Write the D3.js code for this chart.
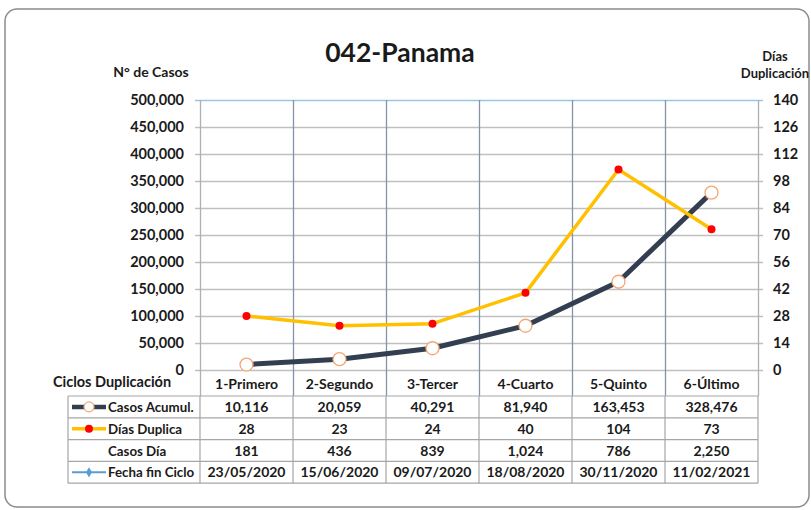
<!DOCTYPE html>
<html>
<head>
<meta charset="utf-8">
<script src="https://cdn.jsdelivr.net/npm/d3@7"></script>
<style>
  body { margin: 0; background: #fff; }
  svg text { font-family: Lato, "Open Sans", sans-serif; font-weight: bold; fill: #1a1a1a; }
</style>
</head>
<body>
<svg id="chart" width="811" height="510"></svg>
<script>
// chart data
var ciclos = ["1-Primero", "2-Segundo", "3-Tercer", "4-Cuarto", "5-Quinto", "6-Último"];
var casosAcumul = [10116, 20059, 40291, 81940, 163453, 328476];
var diasDuplica = [28, 23, 24, 40, 104, 73];
var casosDia = [181, 436, 839, 1024, 786, 2250];
var fechaFin = ["23/05/2020", "15/06/2020", "09/07/2020", "18/08/2020", "30/11/2020", "11/02/2021"];
var leftTicks = [0, 50000, 100000, 150000, 200000, 250000, 300000, 350000, 400000, 450000, 500000];
var rightTicks = [0, 14, 28, 42, 56, 70, 84, 98, 112, 126, 140];

(function() {
var svg = d3.select("#chart");
var fmt = d3.format(",");

var pL = 200, pR = 758, pT = 100, pB = 370;

var x = d3.scaleBand().domain(ciclos).range([pL, pR]);
var yL = d3.scaleLinear().domain([0, 500000]).range([pB, pT]);
var yR = d3.scaleLinear().domain([0, 140]).range([pB, pT]);

// outer frame
svg.append("rect")
  .attr("x", 5).attr("y", 9).attr("width", 804).attr("height", 498)
  .attr("rx", 12).attr("fill", "#fff")
  .attr("stroke", "#8c8c8c").attr("stroke-width", 1.5);

// titles
svg.append("text").attr("x", 400).attr("y", 62).attr("text-anchor", "middle")
  .style("font-size", "26.5px").text("042-Panama");
svg.append("text").attr("x", 151).attr("y", 77).attr("text-anchor", "middle")
  .style("font-size", "14px").text("N° de Casos");
svg.append("text").attr("x", 775).attr("y", 61).attr("text-anchor", "middle")
  .style("font-size", "13px").text("Días");
svg.append("text").attr("x", 775).attr("y", 78).attr("text-anchor", "middle")
  .style("font-size", "13px").text("Duplicación");

// horizontal gridlines
svg.append("g").selectAll("line").data(leftTicks).enter().append("line")
  .attr("x1", pL - 5).attr("x2", pR + 5)
  .attr("y1", function(d) { return Math.round(yL(d)) + 0.5; })
  .attr("y2", function(d) { return Math.round(yL(d)) + 0.5; })
  .attr("stroke", function(d) { return d === 500000 ? "#9dc3e6" : "#c0c0c0"; })
  .attr("stroke-width", 1.5);

// vertical category lines (through plot and header row)
var bounds = ciclos.map(function(c) { return x(c); }).concat([pR]);
svg.append("g").selectAll("line").data(bounds.slice(1, 6)).enter().append("line")
  .attr("x1", function(d) { return Math.round(d) + 0.5; })
  .attr("x2", function(d) { return Math.round(d) + 0.5; })
  .attr("y1", pT).attr("y2", 396)
  .attr("stroke", "#8593a8").attr("stroke-width", 1.3);

// axis lines
svg.append("line").attr("x1", pL + 0.5).attr("x2", pL + 0.5).attr("y1", pT).attr("y2", 396)
  .attr("stroke", "#b0b0b0").attr("stroke-width", 1.3);
svg.append("line").attr("x1", pR + 0.5).attr("x2", pR + 0.5).attr("y1", pT).attr("y2", 396)
  .attr("stroke", "#b0b0b0").attr("stroke-width", 1.3);

// axis labels
svg.append("g").selectAll("text").data(leftTicks).enter().append("text")
  .attr("x", 184).attr("y", function(d) { return yL(d) + 5; })
  .attr("text-anchor", "end").style("font-size", "14.5px")
  .text(function(d) { return fmt(d); });
svg.append("g").selectAll("text").data(rightTicks).enter().append("text")
  .attr("x", 773).attr("y", function(d) { return yR(d) + 5; })
  .style("font-size", "14.5px")
  .text(function(d) { return d; });

// lines
var cx = function(d, i) { return x(ciclos[i]) + x.bandwidth() / 2; };

var lineL = d3.line().x(cx).y(function(d) { return yL(d); });
var lineR = d3.line().x(cx).y(function(d) { return yR(d); });

svg.append("path").datum(casosAcumul).attr("d", lineL)
  .attr("fill", "none").attr("stroke", "#333f50").attr("stroke-width", 5)
  .attr("stroke-linejoin", "round");
svg.append("path").datum(diasDuplica).attr("d", lineR)
  .attr("fill", "none").attr("stroke", "#ffc000").attr("stroke-width", 3.5)
  .attr("stroke-linejoin", "round");

svg.append("g").selectAll("circle").data(casosAcumul).enter().append("circle")
  .attr("cx", cx).attr("cy", function(d) { return yL(d); }).attr("r", 6.5)
  .attr("fill", "#fff").attr("stroke", "#f4a672").attr("stroke-width", 1.3);
svg.append("g").selectAll("circle").data(diasDuplica).enter().append("circle")
  .attr("cx", cx).attr("cy", function(d) { return yR(d); }).attr("r", 4)
  .attr("fill", "#ff0000");

// category labels row
svg.append("text").attr("x", 112).attr("y", 387).attr("text-anchor", "middle")
  .style("font-size", "14.5px").text("Ciclos Duplicación");
svg.append("g").selectAll("text").data(ciclos).enter().append("text")
  .attr("x", function(d) { return x(d) + x.bandwidth() / 2; }).attr("y", 389)
  .attr("text-anchor", "middle").style("font-size", "14px")
  .text(function(d) { return d; });

// data table
var rows = [
  {name: "Casos Acumul.", vals: casosAcumul.map(fmt)},
  {name: "Días Duplica", vals: diasDuplica.map(String)},
  {name: "Casos Día", vals: casosDia.map(fmt)},
  {name: "Fecha fin Ciclo", vals: fechaFin}
];
var rowTop = 396, rowH = 21.8, tabLeft = 68;
var tg = svg.append("g");

rows.forEach(function(r, k) {
  var y0 = rowTop + k * rowH;
  tg.append("line").attr("x1", tabLeft).attr("x2", pR).attr("y1", y0).attr("y2", y0)
    .attr("stroke", "#a6a6a6").attr("stroke-width", 1.2);
  tg.append("text").attr("x", 108).attr("y", y0 + 16).style("font-size", "13.3px").text(r.name);
  r.vals.forEach(function(v, i) {
    tg.append("text").attr("x", cx(null, i)).attr("y", y0 + 16)
      .attr("text-anchor", "middle").style("font-size", "14px").text(v);
  });
});
var tabBottom = rowTop + rows.length * rowH;
tg.append("line").attr("x1", tabLeft).attr("x2", pR).attr("y1", tabBottom).attr("y2", tabBottom)
  .attr("stroke", "#a6a6a6").attr("stroke-width", 1.2);
bounds.concat([tabLeft]).forEach(function(b) {
  tg.append("line").attr("x1", b).attr("x2", b).attr("y1", rowTop).attr("y2", tabBottom)
    .attr("stroke", "#a6a6a6").attr("stroke-width", 1.2);
});

// legend keys
var ly = function(k) { return rowTop + k * rowH + rowH / 2; };
tg.append("line").attr("x1", 72).attr("x2", 106).attr("y1", ly(0)).attr("y2", ly(0))
  .attr("stroke", "#333f50").attr("stroke-width", 4.5);
tg.append("circle").attr("cx", 89).attr("cy", ly(0)).attr("r", 5)
  .attr("fill", "#fff").attr("stroke", "#f4a672").attr("stroke-width", 1.2);
tg.append("line").attr("x1", 72).attr("x2", 106).attr("y1", ly(1)).attr("y2", ly(1))
  .attr("stroke", "#ffc000").attr("stroke-width", 3.5);
tg.append("circle").attr("cx", 89).attr("cy", ly(1)).attr("r", 4).attr("fill", "#ff0000");
tg.append("line").attr("x1", 72).attr("x2", 106).attr("y1", ly(3)).attr("y2", ly(3))
  .attr("stroke", "#5b9bd5").attr("stroke-width", 2);
tg.append("path").attr("d", d3.symbol().type(d3.symbolDiamond).size(30))
  .attr("transform", "translate(89," + ly(3) + ")").attr("fill", "#5b9bd5");
})();
</script>
</body>
</html>
